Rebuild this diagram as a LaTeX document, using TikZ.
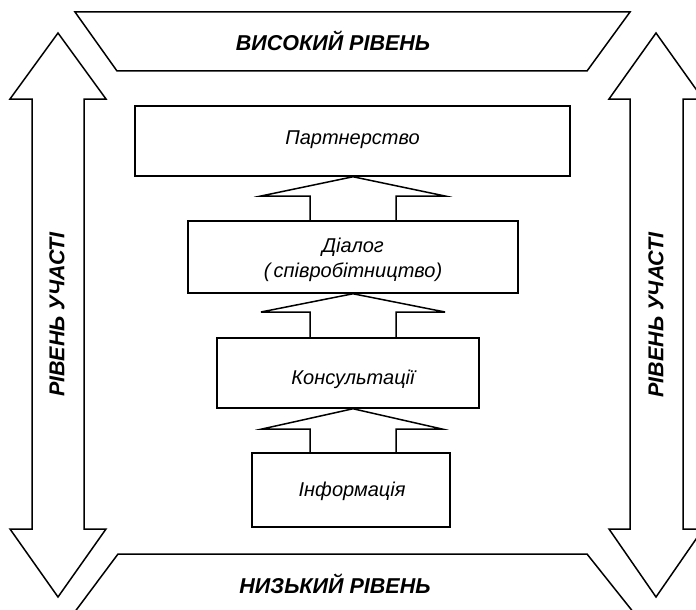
\documentclass[tikz,border=0pt]{standalone}
\usepackage{fontspec}
\setmainfont{Liberation Sans}
\begin{document}
\begin{tikzpicture}[x=1pt,y=-1pt,
  lw/.style={line width=1.5pt, line join=miter},
  box/.style={lw, draw, rectangle, align=center, font=\fontsize{20}{25}\selectfont\itshape, inner sep=0pt},
  btxt/.style={align=center, font=\fontsize{20}{25}\selectfont\itshape, inner sep=0pt},
  lbl/.style={font=\fontsize{21.5}{24}\selectfont\bfseries\itshape},
  blk/.style={lw, draw}]
\clip (0,0) rectangle (696,610);
\fill[white] (0,0) rectangle (696,610);
% level bands
\draw[blk] (75,12) -- (630,12) -- (587,71) -- (117,71) -- cycle;
\node[lbl] (hi) at (333,41) {ВИСОКИЙ РІВЕНЬ};
\draw[blk] (74,613) -- (118,554) -- (587,554) -- (634,613);
\node[lbl] (lo) at (335,584) {НИЗЬКИЙ РІВЕНЬ};
% side double arrows
\draw[blk] (58,33) -- (106,99) -- (84,99) -- (84,529) -- (106,529) -- (58,597) -- (10,529) -- (32,529) -- (32,99) -- (10,99) -- cycle;
\node[lbl, rotate=90] (lp) at (57,314.5) {РІВЕНЬ УЧАСТІ};
\draw[blk] (656,33) -- (703,99) -- (683,99) -- (683,529) -- (703,529) -- (656,597) -- (609,529) -- (630,529) -- (630,99) -- (609,99) -- cycle;
\node[lbl, rotate=90] (rp) at (656,315) {РІВЕНЬ УЧАСТІ};
% boxes
\node[box, minimum width=435pt, minimum height=70pt] (par) at (352.5,141) {};
\node[btxt] (part) at (352.5,140) {Партнерство};
\node[box, minimum width=330pt, minimum height=72pt] (dlg) at (353,257) {};
\node[btxt] (dlgt) at (353,259.5) {Діалог\\(\,співробітництво)};
\node[box, minimum width=262pt, minimum height=70pt] (kon) at (348,373) {};
\node[btxt] (kont) at (353,379) {Консультації};
\node[box, minimum width=198pt, minimum height=74pt] (inf) at (351,490) {};
\node[btxt] (inft) at (352,491) {Інформація};
% block arrows between boxes
\draw[blk] (310,0 |- dlg.north) -- (310,196) -- (261,196) -- (353,0 |- par.south) -- (445,196) -- (396,196) -- (396,0 |- dlg.north);
\draw[blk] (310,0 |- kon.north) -- (310,312) -- (261,312) -- (353,0 |- dlg.south) -- (445,312) -- (396,312) -- (396,0 |- kon.north);
\draw[blk] (310,0 |- inf.north) -- (310,429) -- (262,429) -- (353,0 |- kon.south) -- (442,429) -- (396,429) -- (396,0 |- inf.north);
\end{tikzpicture}
\end{document}
